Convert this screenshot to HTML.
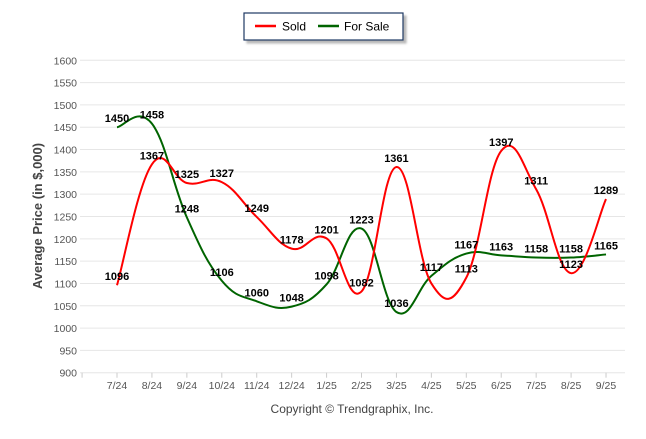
<!DOCTYPE html>
<html><head><meta charset="utf-8"><style>
body{margin:0;background:#fff;font-family:"Liberation Sans",sans-serif}
svg text{font-family:"Liberation Sans",sans-serif}
</style></head><body>
<svg id="c" width="646" height="434" xmlns="http://www.w3.org/2000/svg">
<defs><filter id="sh" x="-10%" y="-10%" width="130%" height="150%"><feDropShadow dx="3" dy="3" stdDeviation="1" flood-color="#888" flood-opacity="0.6"/></filter></defs>
<g>
<rect x="244" y="13" width="159" height="27" fill="#fff" stroke="#1f3864" stroke-width="1.2" filter="url(#sh)"/>
<line x1="255" y1="26" x2="276" y2="26" stroke="#ff0000" stroke-width="2.5"/>
<text x="282" y="30.5" font-size="12" fill="#000">Sold</text>
<line x1="318" y1="26" x2="339" y2="26" stroke="#006400" stroke-width="2.5"/>
<text x="344" y="30.5" font-size="12" fill="#000">For Sale</text>
</g>
<text transform="translate(42,216) rotate(-90)" text-anchor="middle" font-size="13" font-weight="bold" fill="#444">Average Price (in $,000)</text>
<text x="352" y="413" text-anchor="middle" font-size="12" fill="#444">Copyright © Trendgraphix, Inc.</text>
<g id="grid"></g><g id="series"></g><g id="labels"></g>
</svg>
<script>
const categories=["7/24","8/24","9/24","10/24","11/24","12/24","1/25","2/25","3/25","4/25","5/25","6/25","7/25","8/25","9/25"];
const sold=[1096,1367,1325,1327,1249,1178,1201,1082,1361,1100,1113,1397,1311,1123,1289];
const soldShow=[1,1,1,1,1,1,1,1,1,0,1,1,1,1,1];
const forSale=[1450,1458,1248,1106,1060,1048,1098,1223,1036,1117,1167,1163,1158,1158,1165];
const yTicks=[900,950,1000,1050,1100,1150,1200,1250,1300,1350,1400,1450,1500,1550,1600];
const NS="http://www.w3.org/2000/svg";
const X0=80,X1=625,Y0=372.7,Y1=60.3,yMin=900,yMax=1600;
const xs=i=>117+i*34.93;
const ys=v=>Y0-(v-yMin)/(yMax-yMin)*(Y0-Y1);
function mk(t,a,p){const e=document.createElementNS(NS,t);for(const k in a)e.setAttribute(k,a[k]);p.appendChild(e);return e;}
const grid=document.getElementById('grid');
yTicks.forEach(v=>{
 const l=mk('line',{x1:X0,x2:X1,y1:ys(v),y2:ys(v),stroke:'#e6e6e6','stroke-width':1},grid);
 
 
 const t=mk('text',{x:77,y:ys(v)+4,'text-anchor':'end','font-size':10.5,fill:'#555'},grid);
 t.textContent=v;
 
 
});
for(let i=-1;i<categories.length;i++){
 const tk=mk('line',{x1:xs(i),x2:xs(i),y1:Y0,y2:Y0+5,stroke:'#ccc'},grid);
 
 
}
categories.forEach((c,i)=>{
 const t=mk('text',{x:xs(i),y:389,'text-anchor':'middle','font-size':10.5,fill:'#555'},grid);
 t.textContent=c;
 
 
});
function path(vals){
 const p=vals.map((v,i)=>[xs(i),ys(v)]);
 let d='M'+p[0][0]+','+p[0][1];
 for(let i=0;i<p.length-1;i++){
  const a=p[i-1]||p[i],b=p[i],c=p[i+1],e=p[i+2]||c;
  const k=1/5;
  d+=' C'+(b[0]+(c[0]-a[0])*k)+','+(b[1]+(c[1]-a[1])*k)+' '+(c[0]-(e[0]-b[0])*k)+','+(c[1]-(e[1]-b[1])*k)+' '+c[0]+','+c[1];
 }
 return d;
}
const sg=document.getElementById('series');
const p1=mk('path',{d:path(forSale),fill:'none',stroke:'#006400','stroke-width':2},sg);


const p2=mk('path',{d:path(sold),fill:'none',stroke:'#ff0000','stroke-width':2},sg);


const lg=document.getElementById('labels');
function labels(vals,show,name){
 vals.forEach((v,i)=>{
  if(show&&!show[i])return;
  const t=mk('text',{x:xs(i),y:ys(v)-5,'text-anchor':'middle','font-size':11,'font-weight':'bold',fill:'#000'},lg);
  t.textContent=v;
  
  
 });
}
labels(forSale,null,'for-sale');
labels(sold,soldShow,'sold');
</script>
</body></html>
